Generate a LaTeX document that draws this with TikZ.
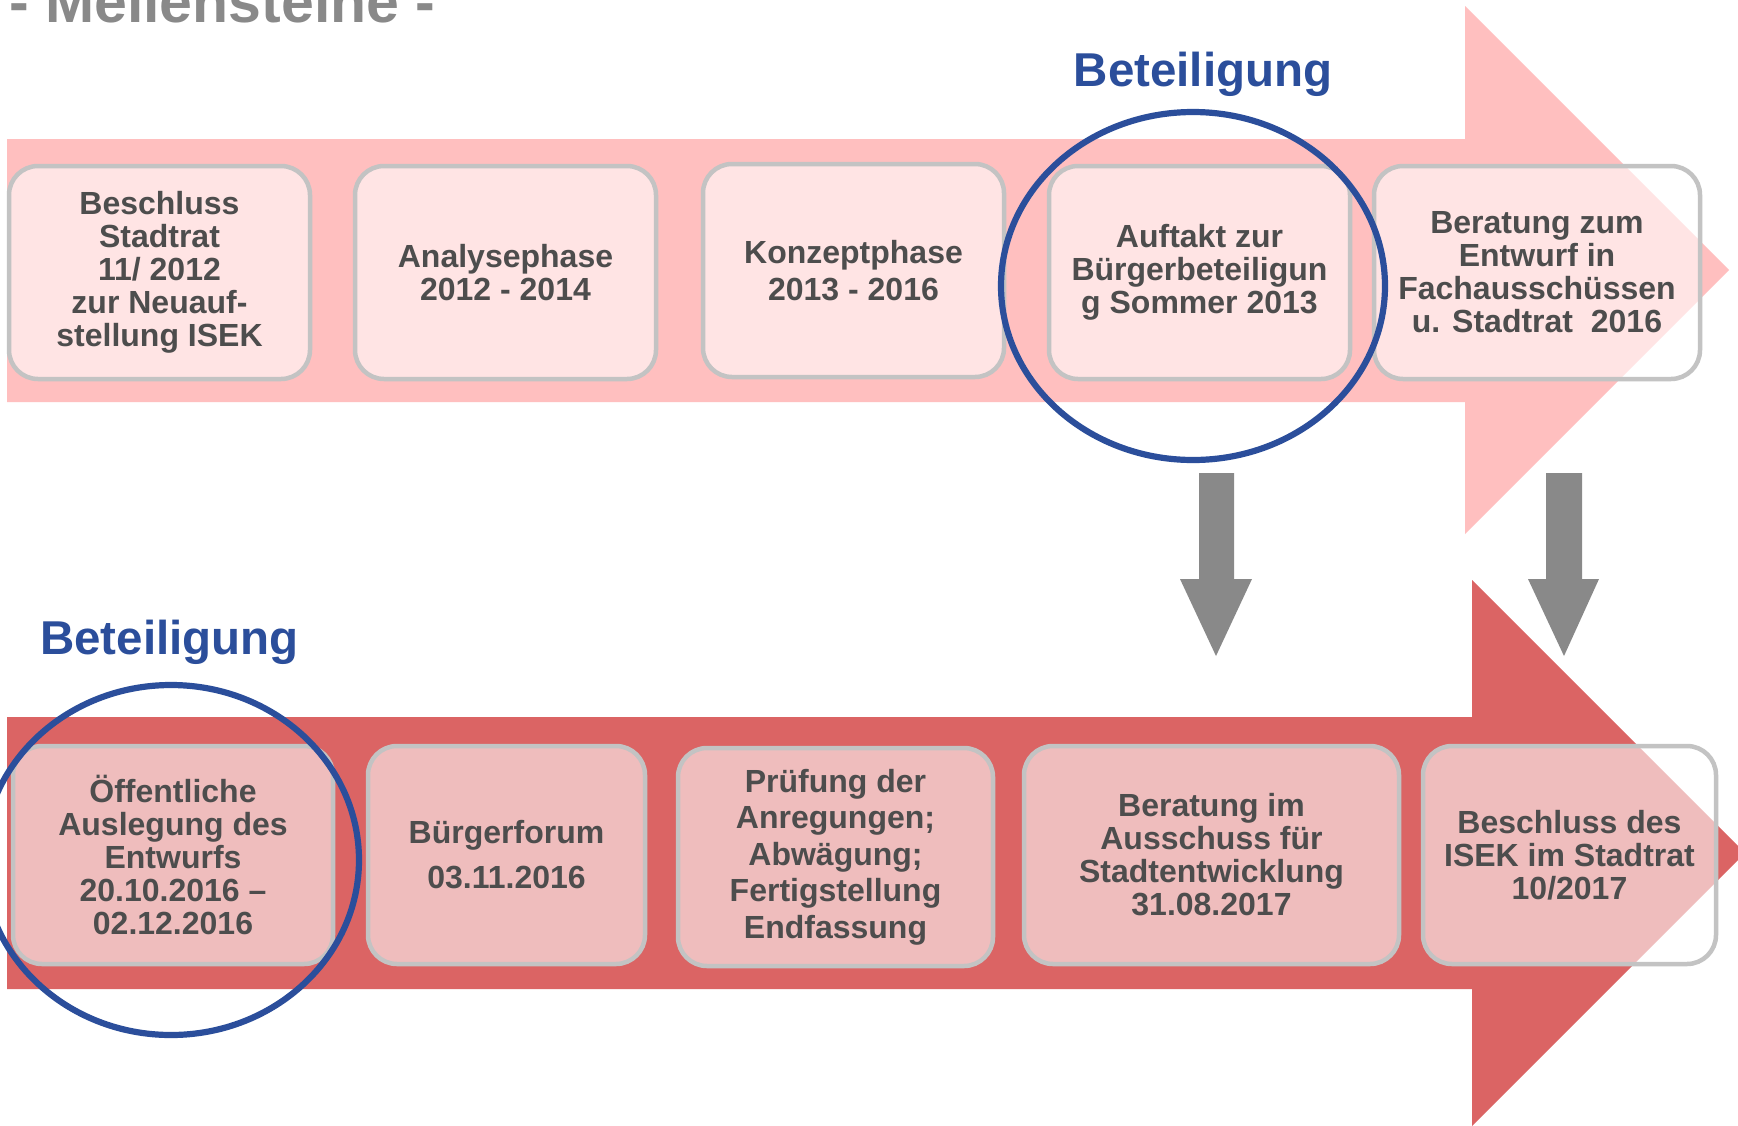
\documentclass[tikz,border=0pt]{standalone}
\usepackage{fontspec}
\setmainfont{Liberation Sans}
\usetikzlibrary{shapes.geometric}
\definecolor{pinkA}{HTML}{FFBFBF}
\definecolor{redA}{HTML}{DB6464}
\definecolor{boxline}{HTML}{C3C3C3}
\definecolor{txt}{HTML}{4D4D4D}
\definecolor{blueA}{HTML}{2B4E9B}
\definecolor{grayA}{HTML}{898989}
\begin{document}
\begin{tikzpicture}[x=1pt,y=-1pt,
  mbox/.style={rectangle, rounded corners=29pt, draw=boxline, line width=4.5pt,
    fill=white, fill opacity=0.58, text opacity=1, text=txt,
    font=\fontsize{32}{33}\selectfont\bfseries, align=center, inner sep=0pt},
  topbox/.style={mbox, minimum height=213pt},
  botbox/.style={mbox, minimum height=218pt},
  ring/.style={ellipse, draw=blueA, line width=6.2pt, inner sep=0pt},
  beteil/.style={text=blueA, font=\fontsize{47.5}{50}\selectfont\bfseries, inner sep=0pt},
  blockarrow/.style={fill=grayA, draw=none}]
\clip (0,0) rectangle (1738,1125);
\fill[white] (0,0) rectangle (1738,1125);
% title
\node[anchor=base west, text=grayA, font=\fontsize{59}{60}\selectfont\bfseries, inner sep=0pt] (title) at (9,22) {- Meilensteine -};
% big arrows
\fill[pinkA] (7,139) -- (1465,139) -- (1465,6) -- (1729,270) -- (1465,534) -- (1465,402) -- (7,402) -- cycle;
\fill[redA] (7,717) -- (1472,717) -- (1472,580) -- (1745,853) -- (1472,1126) -- (1472,989) -- (7,989) -- cycle;
% gray down arrows
\path[blockarrow] (1199,473) -- (1234,473) -- (1234,579) -- (1252,579) -- (1216,656) -- (1180,579) -- (1199,579) -- cycle;
\path[blockarrow] (1546,473) -- (1582,473) -- (1582,579) -- (1599,579) -- (1564,656) -- (1528,579) -- (1546,579) -- cycle;
% top boxes
\node[topbox, minimum width=301pt] (t1) at (159.5,272.5) {Beschluss\\Stadtrat\\11/ 2012\\zur Neuauf-\\stellung ISEK};
\node[topbox, minimum width=301pt] (t2) at (505.5,272.5) {Analysephase\\2012 - 2014};
\node[topbox, minimum width=301pt, font=\fontsize{32}{37.5}\selectfont\bfseries] (t3) at (853.5,270.5) {Konzeptphase\\2013 - 2016};
\node[topbox, minimum width=301pt] (t4) at (1199.5,272.5) {Auftakt zur\\Bürgerbeteiligun\\g Sommer 2013};
\node[topbox, minimum width=326pt] (t5) at (1537,272.5) {Beratung zum\\Entwurf in\\Fachausschüssen\\u. Stadtrat\ \ 2016};
% bottom boxes
\node[botbox, minimum width=320pt] (b1) at (173,855) {Öffentliche\\Auslegung des\\Entwurfs\\20.10.2016 –\\02.12.2016};
\node[botbox, minimum width=277pt, font=\fontsize{32}{45}\selectfont\bfseries] (b2) at (506.5,855) {Bürgerforum\\03.11.2016};
\node[botbox, minimum width=315pt, font=\fontsize{32}{36.5}\selectfont\bfseries] (b3) at (835.5,857) {Prüfung der\\Anregungen;\\Abwägung;\\Fertigstellung\\Endfassung};
\node[botbox, minimum width=375pt] (b4) at (1211.5,855) {Beratung im\\Ausschuss für\\Stadtentwicklung\\31.08.2017};
\node[botbox, minimum width=293pt] (b5) at (1569.5,855) {Beschluss des\\ISEK im Stadtrat\\10/2017};
% circles
\node[ring, minimum width=384pt, minimum height=348pt] (c1) at (1193,286) {};
\node[ring, minimum width=376pt, minimum height=350pt] (c2) at (171,860) {};
% labels
\node[beteil, anchor=base] (l1) at (1203,86) {Beteiligung};
\node[beteil, anchor=base west] (l2) at (40,654) {Beteiligung};
\end{tikzpicture}
\end{document}
